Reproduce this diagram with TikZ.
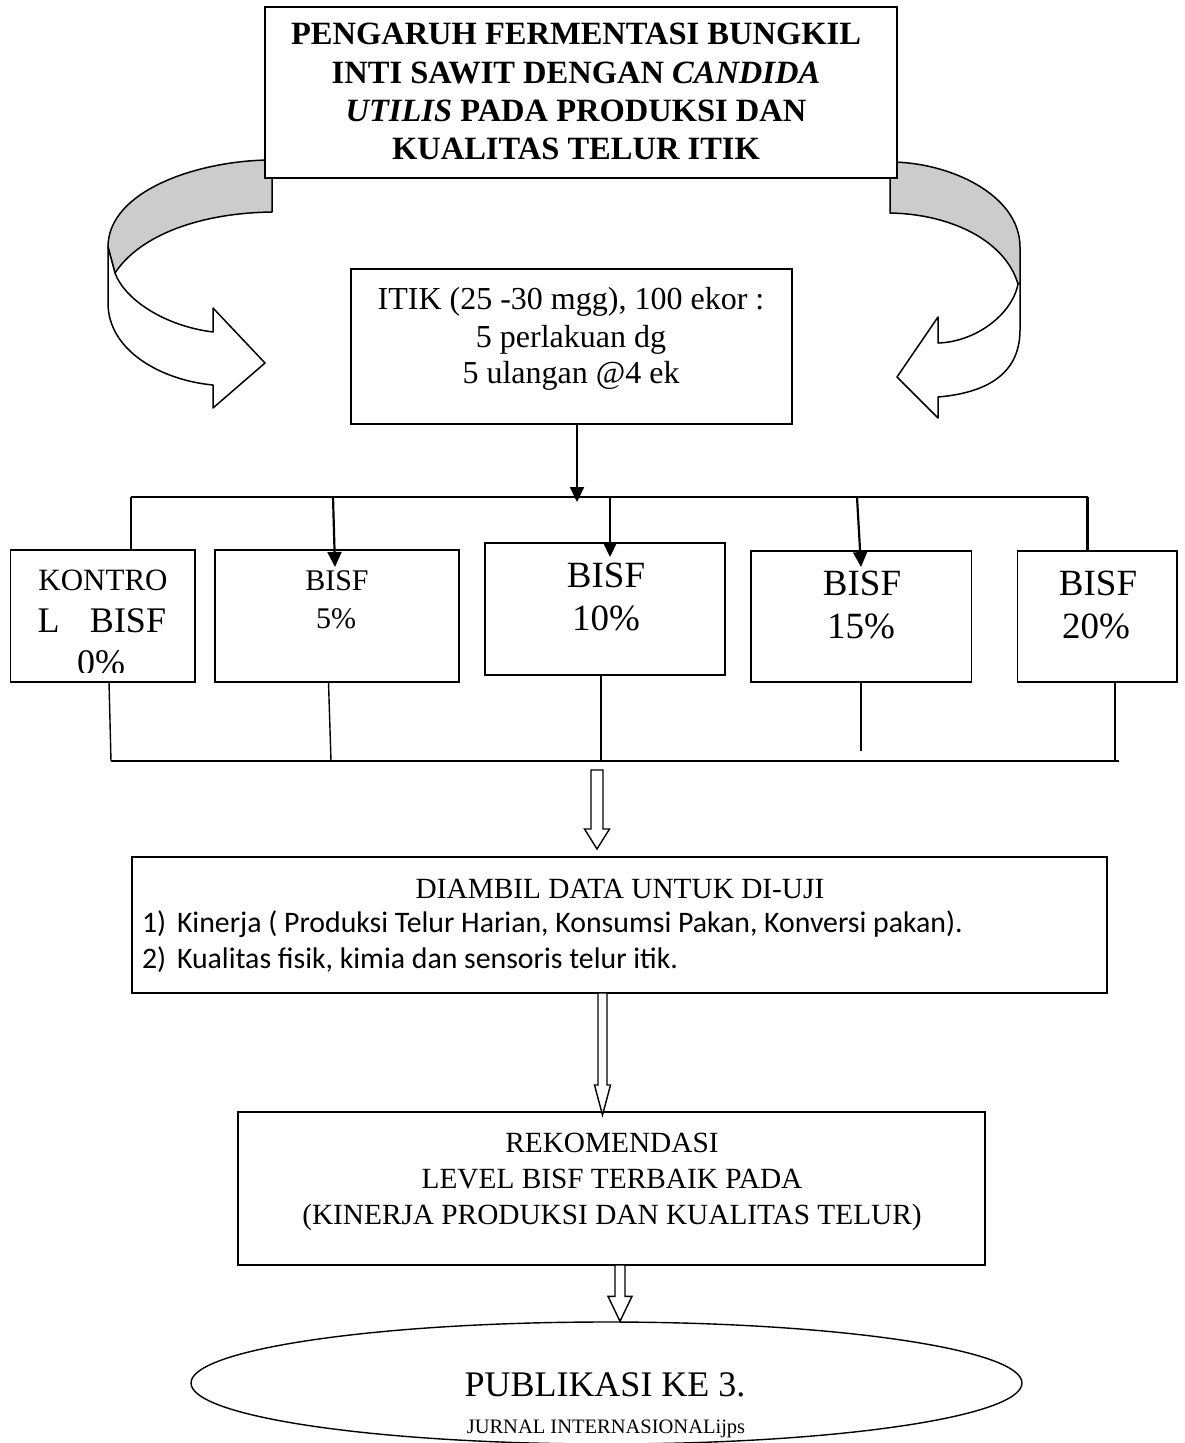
\documentclass[tikz,border=0pt]{standalone}
\usepackage{fontspec}
\setmainfont{Liberation Serif}
\newfontfamily\calib{Carlito}
\usetikzlibrary{arrows.meta,calc,fit,shapes.geometric}
\newcommand{\setfs}[1]{\fontsize{#1}{#1}\selectfont}
% #1 start coordinate, #2 tip coordinate, #3 shaft half width, #4 head half width, #5 head length
\newcommand{\hollowArrow}[5]{%
  \draw[hollow] let \p1=(#1), \p2=(#2) in
    (\x2-#3,\y1) -- (\x2-#3,\y2+#5) -- (\x2-#4,\y2+#5) -- (\x2,\y2) --
    (\x2+#4,\y2+#5) -- (\x2+#3,\y2+#5) -- (\x2+#3,\y1) -- cycle;}
\begin{document}
\begin{tikzpicture}[x=1pt,y=-1pt,
  box/.style={draw, line width=1.8pt, fill=white, inner sep=0pt, outer sep=0pt, rectangle},
  txt/.style={inner sep=0pt, outer sep=0pt, anchor=base},
  txtl/.style={inner sep=0pt, outer sep=0pt, anchor=base west},
  bus/.style={line width=2.4pt},
  drop/.style={line width=1.4pt},
  arr/.style={line width=2.2pt, -{Triangle[length=15pt,width=14pt]}},
  hollow/.style={draw, line width=1.4pt, fill=white, line join=miter},
  band/.style={draw, line width=1.5pt, line join=round},
  bandgrey/.style={band, fill=black!20},
  bandwhite/.style={band, fill=white}]

\useasboundingbox (0,0) rectangle (1184,1443);
\clip (0,0) rectangle (1184,1443);

% ---------- curved arrows ----------
\path[bandgrey] (272,160) .. controls (200,160) and (108,190) .. (108,247)
  -- (115,273) .. controls (140,235) and (200,213) .. (272,212) -- cycle;
\path[bandwhite] (108,247) -- (108,303) .. controls (108,350) and (160,380) .. (213,385)
  -- (213,408) -- (265,363) -- (213,308) -- (213,332)
  .. controls (165,326) and (125,300) .. (115,273) -- cycle;

\path[bandgrey] (890,162) .. controls (950,162) and (1020,195) .. (1020,247)
  -- (1020,283) -- (1018,284) .. controls (1005,240) and (950,214) .. (890,213) -- cycle;
\path[bandwhite] (1020,283) -- (1020,330) .. controls (1020,375) and (985,393) .. (938,397)
  -- (938,418) -- (897,377) -- (938,317) -- (938,343)
  .. controls (975,342) and (1012,315) .. (1018,284) -- cycle;

% ---------- title ----------
\node[box, line width=2.5pt, fit={(265,7) (897,178)}] (title) {};
\node[txt, font=\bfseries\setfs{32.5}] (t1) at (576,44) {PENGARUH FERMENTASI BUNGKIL};
\node[txt, font=\bfseries\setfs{32.5}] (t2) at (576,83) {INTI SAWIT DENGAN \textit{CANDIDA}};
\node[txt, font=\bfseries\setfs{32.5}] (t3) at (576,121) {\textit{UTILIS} PADA PRODUKSI DAN};
\node[txt, font=\bfseries\setfs{32.5}] (t4) at (576,159) {KUALITAS TELUR ITIK};

% ---------- ITIK ----------
\node[box, line width=2.2pt, fit={(351,269) (792,424)}] (itik) {};
\node[txt, font=\setfs{32}] (i1) at (571,309) {ITIK (25 -30 mgg), 100 ekor :};
\node[txt, font=\setfs{32}] (i2) at (571,347) {5 perlakuan dg};
\node[txt, font=\setfs{32}] (i3) at (571,383) {5 ulangan @4 ek};

% ---------- treatment boxes ----------
\node[box, fit={(10.5,550) (195,682)}] (kon) {};
\node[box, fit={(215,550) (459,682)}] (b5) {};
\node[box, fit={(485,543) (725,675)}] (b10) {};
\node[box, fit={(751,551) (971.5,682)}] (b15) {};
\node[box, fit={(1017.5,551) (1177,682)}] (b20) {};

\node[txt, font=\setfs{31}] (k1) at (103,590) {KONTRO};
\node[txtl, font=\setfs{36}] (k2) at (37.5,632) {L\hspace{30.5pt}BISF};
\begin{scope}
  \clip (kon.north west) rectangle ([yshift=10pt]kon.south east);
  \node[txt, font=\setfs{36}] (k3) at (101,674) {0\%};
\end{scope}
\node[txt, font=\setfs{30}] (p5a) at (337,590) {BISF};
\node[txt, font=\setfs{30}] (p5b) at (336,628) {5\%};
\node[txt, font=\setfs{37}] (p10a) at (606,587) {BISF};
\node[txt, font=\setfs{37}] (p10b) at (606,630) {10\%};
\node[txt, font=\setfs{37}] (p15a) at (862,595) {BISF};
\node[txt, font=\setfs{37}] (p15b) at (861,638) {15\%};
\node[txt, font=\setfs{37}] (p20a) at (1098,595) {BISF};
\node[txt, font=\setfs{37}] (p20b) at (1096,638) {20\%};

% ---------- top distribution ----------
\coordinate (busL) at (131,497);
\coordinate (busR) at (1087.5,497);
\coordinate (tipI) at (577,502);
\coordinate (tip5) at (335,567);
\coordinate (tip10) at (610,557);
\coordinate (tip15) at (861,567);
\draw[bus] (busL) -- (busR);
\draw[arr] (tipI |- itik.south) -- (tipI);
\draw[bus] (busL) -- (busL |- kon.north);
\draw[bus] (busR) -- (busR |- b20.north);
\draw[arr] ([xshift=-2pt]tip5 |- busL) -- (tip5);
\draw[arr] (tip10 |- busL) -- (tip10);
\draw[arr] ([xshift=-4pt]tip15 |- busL) -- (tip15);

% ---------- bottom collection ----------
\coordinate (bbL) at (111,761);
\coordinate (bbR) at (1119,761);
\coordinate (d5) at (331,761);
\coordinate (d10) at (601,761);
\coordinate (d15) at (861,751);
\coordinate (d20) at (1115,761);
\draw[drop] (bbL) -- (bbR);
\draw[drop] ([xshift=-2pt]bbL |- kon.south) -- (bbL);
\draw[drop] ([xshift=-2.5pt]d5 |- b5.south) -- (d5);
\draw[drop] (d10 |- b10.south) -- (d10);
\draw[drop] (d15 |- b15.south) -- (d15);
\draw[drop] (d20 |- b20.south) -- (d20);

% ---------- data box ----------
\node[box, line width=2.2pt, fit={(132,857) (1107,993)}] (dbox) {};
\node[txt, font=\setfs{29.3}] (dtitle) at (620,898) {DIAMBIL DATA UNTUK DI-UJI};
\node[txtl, font=\calib\setfs{29.8}] (n1) at (142,932) {1)};
\node[txtl, font=\calib\setfs{29.8}] (l1) at (177,932) {Kinerja ( Produksi Telur Harian, Konsumsi Pakan, Konversi pakan).};
\node[txtl, font=\calib\setfs{29.8}] (n2) at (142,968) {2)};
\node[txtl, font=\calib\setfs{29.8}] (l2) at (177,968) {Kualitas fisik, kimia dan sensoris telur itik.};

% ---------- recommendation box ----------
\node[box, line width=2.2pt, fit={(238,1112) (985,1265)}] (rek) {};
\node[txt, font=\setfs{29.3}] (r1) at (612,1152) {REKOMENDASI};
\node[txt, font=\setfs{29.3}] (r2) at (612,1188) {LEVEL BISF TERBAIK PADA};
\node[txt, font=\setfs{29.3}] (r3) at (612,1224) {(KINERJA PRODUKSI DAN KUALITAS TELUR)};

% ---------- publication ellipse ----------
\node[draw, ellipse, line width=1.4pt, inner sep=0pt, minimum width=831pt, minimum height=122pt] (pub) at (606.5,1383) {};
\node[txt, font=\setfs{36}] (u1) at (605,1396) {PUBLIKASI KE 3.};
\node[txt, font=\setfs{20.5}] (u2) at (606,1433) {JURNAL INTERNASIONALijps};

% ---------- hollow arrows ----------
\coordinate (a1s) at (597,770);
\coordinate (a1t) at (597,849);
\hollowArrow{a1s}{a1t}{6pt}{12.5pt}{20pt}
\coordinate (a2t) at (602.5,1115);
\hollowArrow{a2t |- dbox.south}{a2t}{4.5pt}{8pt}{30pt}
\coordinate (a3x) at (620,0);
\hollowArrow{a3x |- rek.south}{a3x |- pub.north}{5pt}{12pt}{25pt}
\end{tikzpicture}
\end{document}
